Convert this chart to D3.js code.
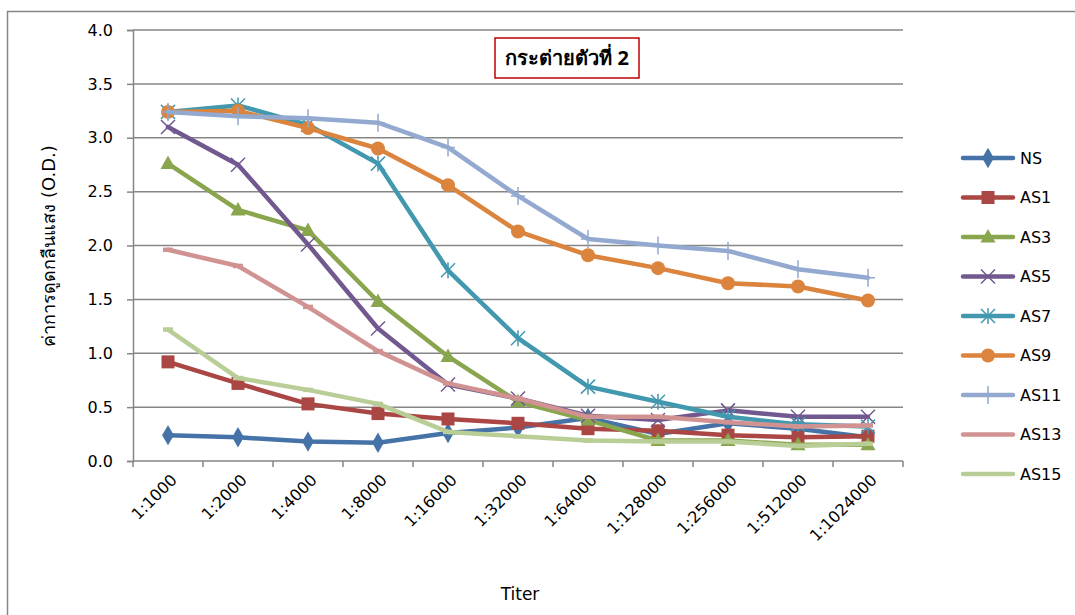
<!DOCTYPE html>
<meta charset="utf-8">
<style>
  body { margin: 0; background: #fff; }
  text { font-family: "DejaVu Sans", "Noto Sans", sans-serif; fill: #000; }
  .grid line { stroke: #868686; stroke-width: 1.5px; }
  .axis path, .axis line { stroke: #868686; stroke-width: 1.5px; }
  .series { fill: none; stroke-width: 4.5px; stroke-linejoin: round; stroke-linecap: round; }
</style>
<svg width="1075" height="615"></svg>
<script src="https://d3js.org/d3.v7.min.js"></script>
<script>

var titers = ["1:1000", "1:2000", "1:4000", "1:8000", "1:16000", "1:32000",
              "1:64000", "1:128000", "1:256000", "1:512000", "1:1024000"];

var seriesNames = ["NS", "AS1", "AS3", "AS5", "AS7", "AS9", "AS11", "AS13", "AS15"];

var NS   = [0.24, 0.22, 0.18, 0.17, 0.26, 0.31, 0.40, 0.25, 0.35, 0.30, 0.22];
var AS1  = [0.92, 0.72, 0.53, 0.44, 0.39, 0.35, 0.30, 0.28, 0.24, 0.22, 0.23];
var AS3  = [2.76, 2.33, 2.14, 1.48, 0.97, 0.55, 0.38, 0.19, 0.19, 0.15, 0.15];
var AS5  = [3.10, 2.75, 2.01, 1.23, 0.71, 0.58, 0.42, 0.38, 0.47, 0.41, 0.41];
var AS7  = [3.24, 3.30, 3.12, 2.76, 1.77, 1.14, 0.69, 0.55, 0.41, 0.34, 0.32];
var AS9  = [3.24, 3.25, 3.09, 2.90, 2.56, 2.13, 1.91, 1.79, 1.65, 1.62, 1.49];
var AS11 = [3.24, 3.20, 3.18, 3.14, 2.91, 2.46, 2.06, 2.00, 1.95, 1.78, 1.70];
var AS13 = [1.96, 1.81, 1.43, 1.02, 0.72, 0.58, 0.41, 0.41, 0.36, 0.32, 0.33];
var AS15 = [1.22, 0.77, 0.66, 0.53, 0.27, 0.23, 0.19, 0.18, 0.18, 0.14, 0.16];

var yTicks = [0, 0.5, 1.0, 1.5, 2.0, 2.5, 3.0, 3.5, 4.0];

var allValues = [NS, AS1, AS3, AS5, AS7, AS9, AS11, AS13, AS15];
var colors = ["#4572A7", "#AA4643", "#89A54E", "#71588F", "#4198AF",
              "#DB843D", "#93A9CF", "#D19392", "#B9CD96"];
var markers = ["diamond", "square", "triangle", "x", "star", "circle", "plus", "dash", "dash"];

var svg = d3.select("svg"),
    margin = {top: 30, right: 172, bottom: 154, left: 133},
    width = +svg.attr("width") - margin.left - margin.right,
    height = +svg.attr("height") - margin.top - margin.bottom;

// chart area border
svg.append("rect")
    .attr("x", 7.5).attr("y", 11.5)
    .attr("width", 1100).attr("height", 700)
    .style("fill", "none").style("stroke", "#868686").style("stroke-width", 1.5);

var x = d3.scaleBand().domain(titers).range([0, width]);
var y = d3.scaleLinear().domain([0, 4]).range([height, 0]);

var g = svg.append("g")
    .attr("transform", "translate(" + margin.left + "," + margin.top + ")");

g.append("g").attr("class", "grid")
  .selectAll("line").data(yTicks.slice(1)).enter().append("line")
    .attr("x1", 0).attr("x2", width)
    .attr("y1", function(d) { return y(d); })
    .attr("y2", function(d) { return y(d); });

var yAxis = g.append("g").attr("class", "axis")
    .call(d3.axisLeft(y).tickValues(yTicks).tickFormat(d3.format(".1f")).tickSize(6).tickPadding(14));
yAxis.selectAll("text").style("font-size", "16px");

// x axis with ticks between categories
var xAxis = g.append("g").attr("class", "axis")
    .attr("transform", "translate(0," + height + ")");
xAxis.append("line").attr("x1", 0).attr("x2", width);
xAxis.selectAll(".tk").data(d3.range(titers.length + 1)).enter().append("line")
    .attr("class", "tk")
    .attr("x1", function(i) { return i * x.step(); })
    .attr("x2", function(i) { return i * x.step(); })
    .attr("y1", 0).attr("y2", 6);
xAxis.selectAll(".lbl").data(titers).enter().append("text")
    .attr("class", "lbl")
    .attr("transform", function(d) {
      return "translate(" + (x(d) + x.bandwidth() / 2 + 6) + ",16) rotate(-45)";
    })
    .attr("text-anchor", "end")
    .attr("dy", "0.35em")
    .style("font-size", "16px")
    .text(function(d) { return d; });

var line = d3.line()
    .x(function(d, i) { return x(titers[i]) + x.bandwidth() / 2; })
    .y(function(d) { return y(d); });

function drawMarker(sel, type, color) {
  if (type === "diamond") {
    sel.append("path").attr("d", d3.symbol(d3.symbolDiamond, 120)()).style("fill", color);
  } else if (type === "square") {
    sel.append("rect").attr("x", -6.5).attr("y", -6.5).attr("width", 13).attr("height", 13).style("fill", color);
  } else if (type === "triangle") {
    sel.append("path").attr("d", "M0,-8L7.5,5.5L-7.5,5.5Z").style("fill", color);
  } else if (type === "circle") {
    sel.append("circle").attr("r", 7).style("fill", color);
  } else if (type === "x") {
    sel.append("path").attr("d", "M-7,-7L7,7M-7,7L7,-7")
      .style("stroke", color).style("stroke-width", 1.5).style("fill", "none");
  } else if (type === "star") {
    sel.append("path").attr("d", "M-7,-7L7,7M-7,7L7,-7M0,-8L0,8")
      .style("stroke", color).style("stroke-width", 1.5).style("fill", "none");
  } else if (type === "plus") {
    sel.append("path").attr("d", "M-7,0L7,0M0,-9L0,9")
      .style("stroke", color).style("stroke-width", 1.5).style("fill", "none");
  } else if (type === "dash") {
    sel.append("path").attr("d", "M-5,0L5,0")
      .style("stroke", color).style("stroke-width", 4.5).style("fill", "none");
  }
}

allValues.forEach(function(vals, s) {
  var sg = g.append("g");
  sg.append("path").datum(vals)
    .attr("class", "series")
    .style("stroke", colors[s])
    .attr("d", line);
  sg.selectAll("g.m").data(vals).enter().append("g")
    .attr("class", "m")
    .attr("transform", function(d, i) {
      return "translate(" + (x(titers[i]) + x.bandwidth() / 2) + "," + y(d) + ")";
    })
    .each(function() { drawMarker(d3.select(this), markers[s], colors[s]); });
});

// title box
var tb = svg.append("g").attr("transform", "translate(567,58)");
tb.append("rect").attr("x", -72).attr("y", -20).attr("width", 144).attr("height", 40)
  .style("fill", "#fff").style("stroke", "#C00000").style("stroke-width", 1.5);
tb.append("text").attr("text-anchor", "middle").attr("dy", "0.35em")
  .style("font-size", "20px").style("font-weight", "bold")
  .style("font-family", "Tahoma, 'Noto Sans', 'DejaVu Sans', sans-serif")
  .text("กระต่ายตัวที่ 2");

// axis titles
svg.append("text").attr("x", 520).attr("y", 600).attr("text-anchor", "middle")
  .style("font-size", "17px").text("Titer");
svg.append("text").attr("transform", "translate(55,246) rotate(-90)")
  .attr("text-anchor", "middle")
  .style("font-size", "18px")
  .text("ค่าการดูดกลืนแสง (O.D.)");

// legend
var legend = svg.selectAll("g.legend").data(seriesNames).enter().append("g")
  .attr("class", "legend")
  .attr("transform", function(d, i) { return "translate(963," + (158 + i * 39.5) + ")"; });
legend.append("line").attr("x1", 0).attr("x2", 50)
  .style("stroke", function(d, i) { return colors[i]; })
  .style("stroke-width", 4.5).style("stroke-linecap", "round");
legend.each(function(d, i) {
  var m = d3.select(this).append("g").attr("transform", "translate(25,0)");
  if (markers[i] !== "dash") drawMarker(m, markers[i], colors[i]);
});
legend.append("text").attr("x", 57).attr("dy", "0.35em")
  .style("font-size", "16px")
  .text(function(d) { return d; });

</script>
